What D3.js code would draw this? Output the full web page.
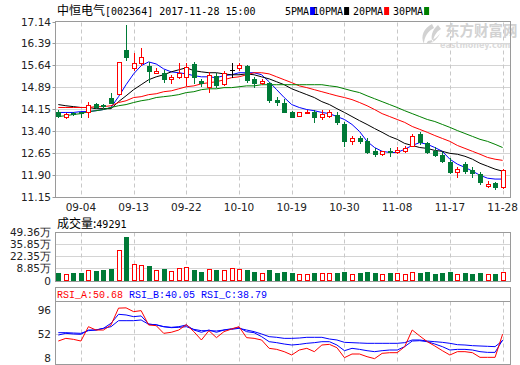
<!DOCTYPE html>
<html><head><meta charset="utf-8">
<script src="https://cdn.jsdelivr.net/npm/d3@7"></script>
<style>body{margin:0;background:#fff}svg{display:block}</style>
</head><body><svg id="c" width="520" height="365"></svg>
<script>
const dates = ["08-30","08-31","09-01","09-04","09-05","09-06","09-07","09-08","09-11","09-12","09-13","09-14","09-15","09-18","09-19","09-20","09-21","09-22","09-25","09-26","09-27","09-28","09-29","10-09","10-10","10-11","10-12","10-13","10-16","10-17","10-18","10-19","10-20","10-23","10-24","10-25","10-26","10-27","10-30","10-31","11-01","11-02","11-03","11-06","11-07","11-08","11-09","11-10","11-13","11-14","11-15","11-16","11-17","11-20","11-21","11-22","11-23","11-24","11-27","11-28"];
const opens  = [14.06,13.89,14.02,14.03,14.03,14.33,14.30,14.54,14.67,16.17,15.56,15.73,15.63,15.39,15.39,15.18,15.25,15.25,15.69,15.12,14.91,15.29,15.02,15.49,15.56,15.63,15.18,15.05,15.05,14.47,14.37,14.06,13.92,14.03,14.06,13.86,13.92,13.96,13.62,13.07,13.14,13.07,12.70,12.60,12.72,12.67,12.70,12.87,13.28,12.97,12.70,12.57,12.33,11.99,12.26,12.05,11.92,11.51,11.61,11.47];
const highs  = [14.13,14.00,14.06,14.06,14.40,14.37,14.33,14.71,15.76,17.02,16.07,16.24,15.76,15.56,15.49,15.32,15.73,15.73,15.76,15.18,15.42,15.39,15.46,15.73,15.73,15.66,15.25,15.18,15.08,14.57,14.50,14.09,14.06,14.13,14.13,14.13,14.13,14.03,13.72,13.21,13.21,13.14,12.80,12.72,12.80,12.84,12.87,13.28,13.35,13.01,12.84,12.67,12.46,12.16,12.33,12.16,11.99,11.68,11.64,12.09];
const lows   = [13.86,13.85,13.93,13.89,13.89,14.17,14.20,14.37,14.67,15.83,15.49,15.66,15.08,15.39,15.08,15.05,15.22,14.98,15.05,14.95,14.74,14.91,14.98,15.25,15.49,15.08,14.91,15.02,14.40,14.30,14.03,13.86,13.92,14.00,13.72,13.82,13.89,13.65,12.87,12.94,13.00,12.64,12.53,12.58,12.53,12.64,12.67,12.87,12.94,12.63,12.53,12.33,11.95,11.82,11.95,11.82,11.58,11.47,11.40,11.44];
const closes = [13.92,13.99,13.98,14.00,14.27,14.20,14.24,14.37,15.76,15.93,15.73,15.93,15.46,15.46,15.18,15.25,15.39,15.59,15.25,15.05,15.32,14.98,15.39,15.49,15.66,15.15,15.05,15.12,14.44,14.40,14.06,13.89,14.06,14.06,13.86,13.99,14.03,13.69,13.04,13.17,13.07,12.67,12.60,12.70,12.68,12.74,12.83,13.21,13.01,12.67,12.57,12.36,11.99,12.09,12.02,11.95,11.64,11.58,11.47,12.05];
const ma5  = [14.03,14.03,14.03,14.06,14.06,14.09,14.13,14.20,14.57,14.98,15.35,15.63,15.76,15.69,15.52,15.42,15.39,15.35,15.29,15.25,15.25,15.22,15.29,15.32,15.39,15.39,15.39,15.32,15.08,14.81,14.54,14.30,14.20,14.13,14.09,14.03,13.99,13.89,13.79,13.62,13.38,13.04,12.83,12.70,12.66,12.66,12.77,12.90,13.00,12.94,12.83,12.70,12.43,12.26,12.15,12.02,11.88,11.78,11.75,11.75];
const ma10 = [14.30,14.26,14.23,14.20,14.20,14.16,14.16,14.16,14.40,14.60,14.81,14.98,15.15,15.25,15.32,15.42,15.49,15.56,15.46,15.42,15.39,15.39,15.35,15.32,15.32,15.35,15.32,15.25,15.18,15.08,14.98,14.84,14.74,14.64,14.54,14.40,14.30,14.16,14.03,13.89,13.75,13.62,13.48,13.35,13.21,13.11,12.97,12.90,12.83,12.80,12.73,12.70,12.63,12.60,12.53,12.43,12.29,12.19,12.09,12.02];
const ma20 = [14.20,14.20,14.20,14.20,14.20,14.23,14.23,14.26,14.37,14.43,14.54,14.57,14.64,14.67,14.74,14.77,14.84,14.91,14.94,15.01,15.05,15.08,15.15,15.22,15.25,15.32,15.39,15.39,15.35,15.25,15.15,15.05,14.94,14.88,14.81,14.74,14.67,14.60,14.54,14.47,14.37,14.26,14.13,13.99,13.89,13.79,13.69,13.55,13.45,13.35,13.24,13.14,13.04,12.90,12.80,12.70,12.60,12.49,12.43,12.39];
const ma30 = [13.89,13.92,13.96,13.99,14.06,14.09,14.13,14.20,14.26,14.30,14.37,14.43,14.47,14.54,14.57,14.60,14.64,14.71,14.74,14.81,14.84,14.84,14.88,14.88,14.91,14.94,14.94,14.98,14.98,14.98,14.98,14.98,14.98,14.98,14.98,14.98,14.94,14.91,14.84,14.77,14.71,14.60,14.50,14.40,14.30,14.20,14.09,13.99,13.89,13.79,13.72,13.62,13.52,13.41,13.31,13.21,13.11,13.04,12.94,12.83];
// volume in 万手
const volumes = [3.41,2.29,3.41,3.41,6.78,5.99,7.11,8.23,29.53,44.10,13.50,12.72,11.60,7.11,8.23,5.99,9.69,10.13,7.11,5.21,8.23,7.11,7.11,9.02,7.90,7.11,5.21,3.41,7.11,4.09,5.21,4.09,2.29,2.29,3.41,3.41,3.41,3.41,5.21,2.29,3.41,4.87,3.41,2.29,3.41,3.41,2.29,4.53,3.41,4.87,2.63,3.75,4.87,2.29,3.75,2.63,3.75,2.29,2.63,4.9291];
const lastVolumeLabel = "49291";
const rsiA = [38.2,43.1,41.3,38.2,64.5,58.4,58.4,67.6,98.5,99.0,92.1,93.9,67.6,66.4,52.3,54.2,58.4,68.2,55.4,40.1,57.2,44.4,55.4,60.2,64.5,44.4,43.1,40.1,24.8,22.9,18.7,12.6,21.7,24.8,18.7,30.9,32.1,26.0,7.7,14.4,14.4,9.5,5.9,15.6,16.8,16.8,27.9,58.4,47.4,37.0,29.1,20.5,12.6,18.7,18.7,16.8,8.3,8.3,8.3,50.68];
const rsiB = [49.2,52.3,51.1,50.5,58.4,58.4,61.5,70.7,87.2,86.0,82.9,84.2,69.5,67.6,64.5,63.3,64.5,67.6,58.4,54.2,58.4,54.2,58.4,60.8,62.7,55.4,53.5,46.2,37.0,35.2,32.7,30.9,32.1,34.0,35.2,37.0,37.0,30.9,20.5,24.8,22.9,20.5,18.7,20.5,21.7,21.7,27.9,38.2,38.8,37.0,32.7,27.9,21.7,22.9,22.9,21.7,18.7,17.4,17.4,40.05];
const rsiC = [53.5,53.5,52.9,52.3,57.2,58.4,61.5,64.5,75.5,75.5,75.5,76.8,68.8,68.2,64.5,62.7,63.3,64.5,59.6,57.2,57.2,56.6,58.4,59.6,61.5,58.4,55.4,51.1,46.2,45.0,43.1,43.1,43.7,45.0,45.0,45.0,41.9,40.1,35.8,35.2,34.6,34.0,34.0,34.0,34.0,34.0,35.2,40.1,40.1,38.2,37.0,35.8,34.0,31.5,30.9,29.7,29.1,28.5,27.9,38.79];
const priceTickLabels = ["17.14","16.39","15.64","14.89","14.15","13.40","12.65","11.90","11.15"];
const volTickLabels = ["49.36万","35.85万","22.35万","8.85万"];
const rsiTickValues = [96,52,8];
const xTickLabels = ["09-04","09-13","09-22","10-10","10-19","10-30","11-08","11-17","11-28"];
const maNames = ["5PMA","10PMA","20PMA","30PMA"];

const svg = d3.select("#c");
const L = 55.5, R = 510.5;
const RED = "#ff0000", GREEN = "#007a37", FRAME = "#9a9a9a", GRID = "#d4d4d4";
const LABEL_FONT = "'DejaVu Sans', Verdana, sans-serif";
const MONO = "'DejaVu Sans Mono', 'Liberation Mono', monospace";
const MONO2 = "'Liberation Mono', 'DejaVu Sans Mono', monospace";
const CJK = "'Noto Sans CJK SC', sans-serif";

const x = d3.scalePoint().domain(dates).range([58.3, 502.6]);
const cx = d => Math.round(x(d)) + 0.5;
const crisp = v => Math.round(v) + 0.5;

// ---------- MAIN PANEL ----------
const mTop = 21.6, mBot = 196.6;
const y = d3.scaleLinear().domain([11.15, 17.14]).range([mBot, mTop]);
const pStep = (17.14 - 11.15) / 8;
const priceTicks = priceTickLabels.map((t, i) => ({v: 17.14 - i * pStep, t}));

svg.append("g").selectAll("line").data(priceTicks.slice(1, -1)).join("line")
  .attr("x1", L).attr("x2", R).attr("y1", d => crisp(y(d.v))).attr("y2", d => crisp(y(d.v)))
  .attr("stroke", GRID).attr("stroke-width", 1);
function vgrid(top, bot) {
  svg.append("g").selectAll("line").data(xTickLabels).join("line")
    .attr("x1", cx).attr("x2", cx).attr("y1", top).attr("y2", bot)
    .attr("stroke", "#c8c8c8").attr("stroke-dasharray", "4,3");
}
vgrid(crisp(mTop), crisp(mBot));

// watermark (behind data)
const wm = svg.append("g").attr("fill", "#d2d2d2");
wm.append("path").attr("d", "M432,24 C424,28 420,36 424,44 C424,37 428,31 434,28 Z M438,25 C432,30 430,37 433,43 C433,37 436,32 441,29 Z M428,41 C434,40 438,37 440,33 C438,39 433,43 426,44 Z");
wm.append("text").attr("x", 445).attr("y", 36).attr("font-family", CJK).attr("font-size", 14.5).attr("font-weight", "bold").text("东方财富网");
wm.append("text").attr("x", 440).attr("y", 47.5).attr("font-family", LABEL_FONT).attr("font-size", 8).attr("font-weight", "bold")
  .attr("fill", "#dadada").text("eastmoney.com");

svg.append("g").selectAll("text").data(priceTicks).join("text")
  .attr("x", 51).attr("y", d => y(d.v) + 4).attr("text-anchor", "end")
  .attr("font-family", LABEL_FONT).attr("font-size", 10.5).attr("fill", "#222").text(d => d.t);
svg.append("g").selectAll("line").data(priceTicks).join("line")
  .attr("x1", L - 3).attr("x2", L).attr("y1", d => crisp(y(d.v))).attr("y2", d => crisp(y(d.v)))
  .attr("stroke", FRAME);
svg.append("g").selectAll("text").data(xTickLabels).join("text")
  .attr("x", d => x(d)).attr("y", 211).attr("text-anchor", "middle")
  .attr("font-family", LABEL_FONT).attr("font-size", 10.5).attr("fill", "#222").text(d => d);

const maColors = ["#0000ff", "#000000", "#ff0000", "#008000"];
[ma5, ma10, ma20, ma30].forEach((arr, k) => {
  svg.append("path").datum(arr)
    .attr("d", d3.line().x((v, i) => x(dates[i])).y(v => y(v)))
    .attr("fill", "none").attr("stroke", maColors[k]).attr("stroke-width", 1);
});

const candles = dates.map((d, i) => ({d, o: opens[i], h: highs[i], l: lows[i], c: closes[i]}));
const cg = svg.append("g");
candles.forEach(k => {
  const X = cx(k.d);
  const up = k.c > k.o, flat = k.c === k.o;
  const col = flat ? "#000" : (up ? RED : GREEN);
  const yt = Math.round(y(Math.max(k.o, k.c))), yb = Math.round(y(Math.min(k.o, k.c)));
  if (up) {
    cg.append("line").attr("x1", X).attr("x2", X).attr("y1", Math.round(y(k.h))).attr("y2", yt).attr("stroke", col);
    cg.append("line").attr("x1", X).attr("x2", X).attr("y1", yb + 1).attr("y2", Math.round(y(k.l)) + 1).attr("stroke", col);
    cg.append("rect").attr("x", X - 2).attr("y", yt + 0.5).attr("width", 4).attr("height", Math.max(1, yb - yt))
      .attr("fill", "#fff").attr("stroke", col);
  } else {
    cg.append("line").attr("x1", X).attr("x2", X).attr("y1", Math.round(y(k.h))).attr("y2", Math.round(y(k.l)) + 1).attr("stroke", col);
    cg.append("rect").attr("x", X - 2.5).attr("y", yt).attr("width", 5).attr("height", Math.max(1, yb - yt + 1))
      .attr("fill", col);
  }
});
svg.append("rect").attr("x", L).attr("y", crisp(mTop) - 1).attr("width", R - L).attr("height", crisp(mBot) - crisp(mTop) + 1)
  .attr("fill", "none").attr("stroke", FRAME);

// title & legend
const title = svg.append("text").attr("x", 57).attr("y", 15).attr("fill", "#000");
title.append("tspan").attr("font-family", CJK).attr("font-size", 12).text("中恒电气");
title.append("tspan").attr("font-family", MONO).attr("font-size", 10).text("[002364] 2017-11-28 15:00");
const legX = [285, 313, 353, 393];
maNames.forEach((n, k) => {
  svg.append("text").attr("x", legX[k]).attr("y", 15).attr("font-family", MONO).attr("font-size", 10).attr("fill", "#000").text(n);
  svg.append("rect").attr("x", legX[k] + n.length * 6.02 + 1).attr("y", 7).attr("width", 5).attr("height", 8).attr("fill", maColors[k]);
});

// ---------- VOLUME PANEL ----------
const vTop = 232.3, vBot = 280.5;
const vStep = 13.505;
const yv = d3.scaleLinear().domain([49.36 - 4 * vStep, 49.36]).range([vBot, vTop]);
svg.append("text").attr("x", 57).attr("y", 228).attr("font-family", CJK).attr("font-size", 12).attr("fill", "#000")
  .text("成交量:").append("tspan").attr("font-family", MONO).attr("font-size", 10).text(lastVolumeLabel);
const volTicks = volTickLabels.map((t, i) => ({v: 49.36 - i * vStep, t}));
svg.append("g").selectAll("line").data(volTicks.slice(1)).join("line")
  .attr("x1", L).attr("x2", R).attr("y1", d => crisp(yv(d.v))).attr("y2", d => crisp(yv(d.v))).attr("stroke", GRID);
vgrid(crisp(vTop), crisp(vBot));
svg.append("g").selectAll("text").data(volTicks).join("text")
  .attr("x", 51).attr("y", d => yv(d.v) + 4).attr("text-anchor", "end")
  .attr("font-family", LABEL_FONT).attr("font-size", 10.5).attr("fill", "#222").text(d => d.t);
svg.append("text").attr("x", 51).attr("y", vBot + 4).attr("text-anchor", "end")
  .attr("font-family", LABEL_FONT).attr("font-size", 10.5).attr("fill", "#222").text("0");
const vg = svg.append("g");
dates.forEach((d, i) => {
  const X = cx(d);
  const up = closes[i] >= opens[i];
  const top = Math.round(yv(volumes[i]));
  if (up) {
    vg.append("rect").attr("x", X - 2).attr("y", top + 0.5).attr("width", 4).attr("height", Math.round(vBot) - top - 1)
      .attr("fill", "#fff").attr("stroke", RED);
  } else {
    vg.append("rect").attr("x", X - 2.5).attr("y", top).attr("width", 5).attr("height", Math.round(vBot) - top).attr("fill", GREEN);
  }
});
svg.append("rect").attr("x", L).attr("y", crisp(vTop)).attr("width", R - L).attr("height", crisp(vBot) - crisp(vTop))
  .attr("fill", "none").attr("stroke", FRAME);

// ---------- RSI PANEL ----------
const rTop = 301, rBot = 364;
const yr = d3.scaleLinear().domain([8, 96]).range([357.5, 309.5]);
svg.append("line").attr("x1", L).attr("x2", R).attr("y1", crisp(yr(52))).attr("y2", crisp(yr(52))).attr("stroke", GRID);
vgrid(rTop + 0.5, rBot);
svg.append("g").selectAll("text").data(rsiTickValues).join("text")
  .attr("x", 51).attr("y", d => yr(d) + 4).attr("text-anchor", "end")
  .attr("font-family", LABEL_FONT).attr("font-size", 10.5).attr("fill", "#222").text(d => d);
[[rsiC, "#0000ff"], [rsiB, "#0000ff"], [rsiA, RED]].forEach(([arr, col]) => {
  svg.append("path").datum(arr)
    .attr("d", d3.line().x((v, i) => x(dates[i])).y(v => yr(v)))
    .attr("fill", "none").attr("stroke", col).attr("stroke-width", 1);
});
svg.append("rect").attr("x", L).attr("y", rTop + 0.5).attr("width", R - L).attr("height", rBot - rTop)
  .attr("fill", "none").attr("stroke", FRAME);
// header box drawn last so the text stays on top
svg.append("rect").attr("x", L).attr("y", 287.5).attr("width", R - L).attr("height", 14).attr("fill", "#fff").attr("stroke", FRAME);
const rt = svg.append("text").attr("x", 57).attr("y", 297.5).attr("font-family", MONO2).attr("font-size", 10);
rt.append("tspan").attr("fill", RED).text("RSI_A:" + rsiA[rsiA.length - 1].toFixed(2) + " ");
rt.append("tspan").attr("fill", "#0000ff").text("RSI_B:" + rsiB[rsiB.length - 1].toFixed(2) + " ");
rt.append("tspan").attr("fill", "#0000ff").text("RSI_C:" + rsiC[rsiC.length - 1].toFixed(2));
</script></body></html>
